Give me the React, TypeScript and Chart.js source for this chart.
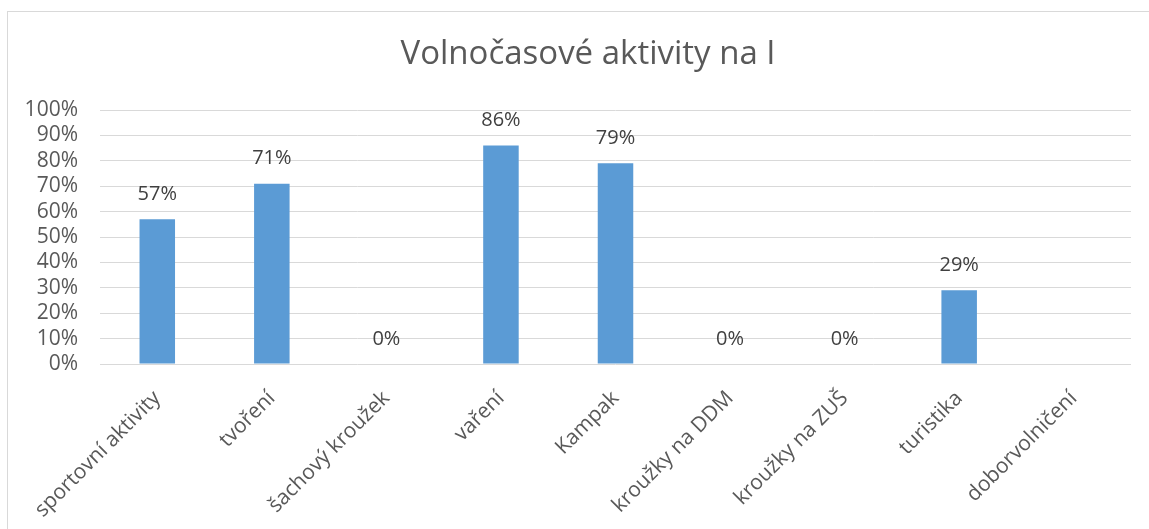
import React, { useEffect, useRef } from "react";
import { Chart, registerables } from "chart.js";

Chart.register(...registerables);

const categories = [
  "sportovní aktivity",
  "tvoření",
  "šachový kroužek",
  "vaření",
  "Kampak",
  "kroužky na DDM",
  "kroužky na ZUŠ",
  "turistika",
  "doborvolničení",
];
const values: (number | null)[] = [57, 71, 0, 86, 79, 0, 0, 29, null];
const chartTitle = "Volnočasové aktivity na I";

const FONT = "'Open Sans', 'Liberation Sans', sans-serif";

const dataLabelPlugin = {
  id: "dataLabels",
  afterDatasetsDraw(chart: any) {
    const ctx = chart.ctx;
    const meta = chart.getDatasetMeta(0);
    ctx.save();
    ctx.font = `20px ${FONT}`;
    ctx.fillStyle = "#404040";
    ctx.textAlign = "center";
    ctx.textBaseline = "middle";
    meta.data.forEach((bar: any, i: number) => {
      const v = values[i];
      if (v === null || v === undefined) return;
      ctx.fillText(`${v}%`, bar.x, bar.y - 25);
    });
    ctx.restore();
  },
};

const titlePlugin = {
  id: "customTitle",
  afterDraw(chart: any) {
    const ctx = chart.ctx;
    ctx.save();
    ctx.font = `33px ${FONT}`;
    ctx.fillStyle = "#595959";
    ctx.textAlign = "center";
    ctx.textBaseline = "middle";
    ctx.fillText(chartTitle, 588, 55);
    ctx.restore();
  },
};

export default function App() {
  const ref = useRef<HTMLCanvasElement>(null);
  useEffect(() => {
    document.body.style.margin = "0";
    const chart = new Chart(ref.current!, {
      type: "bar",
      data: {
        labels: categories,
        datasets: [
          {
            data: values,
            backgroundColor: "#5B9BD5",
            borderWidth: 0,
            barPercentage: 0.31,
            categoryPercentage: 1,
          },
        ],
      },
      options: {
        animation: false,
        responsive: false,
        maintainAspectRatio: false,
        layout: { padding: { left: 0, right: 18, top: 110, bottom: 0 } },
        plugins: {
          legend: { display: false },
          tooltip: { enabled: false },
          title: { display: false },
        },
        scales: {
          x: {
            grid: { display: false },
            border: { display: false },
            ticks: {
              color: "#595959",
              font: { family: FONT, size: 21 },
              minRotation: 45,
              maxRotation: 45,
              padding: 14,
              autoSkip: false,
            },
            afterFit(scale: any) {
              scale.height = 165;
            },
          },
          y: {
            min: 0,
            max: 100,
            grid: { color: "#d9d9d9", lineWidth: 1, drawTicks: false },
            border: { display: false },
            ticks: {
              stepSize: 10,
              autoSkip: false,
              color: "#595959",
              font: { family: FONT, size: 21 },
              padding: 22,
              callback: (v: any) => `${v}%`,
            },
            afterFit(scale: any) {
              scale.width = 100;
            },
          },
        },
      },
      plugins: [dataLabelPlugin, titlePlugin],
    });
    return () => chart.destroy();
  }, []);

  return (
    <div style={{ position: "relative", width: 1149, height: 529, overflow: "hidden", background: "#fff" }}>
      <div
        style={{
          position: "absolute",
          left: 7,
          top: 11,
          width: 1200,
          height: 600,
          border: "1px solid #d9d9d9",
          boxSizing: "border-box",
        }}
      />
      <canvas ref={ref} width={1149} height={529} style={{ position: "absolute", left: 0, top: 0 }} />
    </div>
  );
}
